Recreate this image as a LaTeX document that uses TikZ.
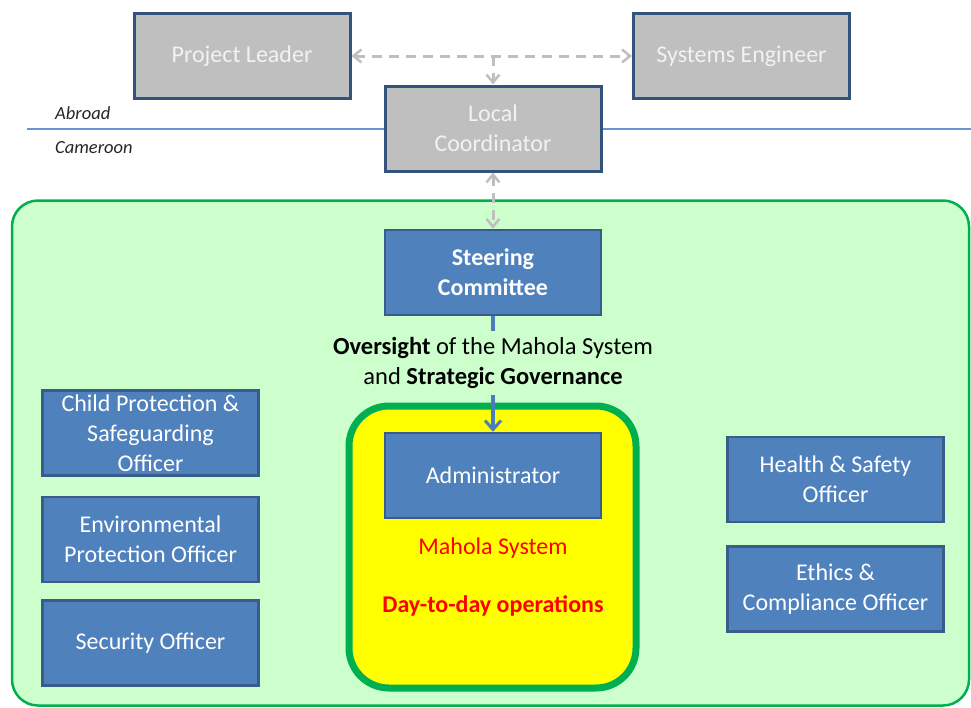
\documentclass[tikz,border=0pt]{standalone}
\usepackage{fontspec}
\setmainfont{Carlito}
\usetikzlibrary{arrows.meta}
\definecolor{boxblue}{HTML}{4F81BD}
\definecolor{boxedge}{HTML}{385D8A}
\definecolor{grayfill}{HTML}{BFBFBF}
\definecolor{graytext}{HTML}{F2F2F2}
\definecolor{greenbg}{HTML}{CCFFCC}
\definecolor{greenedge}{HTML}{00B050}
\definecolor{yellowbg}{HTML}{FFFF00}
\definecolor{redtext}{HTML}{FF0000}
\definecolor{divider}{HTML}{6A93CF}
\definecolor{arrowblue}{HTML}{4A7EBB}
\definecolor{labeltext}{HTML}{262626}
\tikzset{
  box/.style={draw=boxedge, line width=2.5pt, fill=boxblue, text=white,
    minimum width=216pt, minimum height=85pt, inner sep=2pt, align=center,
    font=\fontsize{24}{30}\selectfont},
  graybox/.style={box, fill=grayfill, text=graytext, draw=boxedge!90!black, line width=3pt},
  gdash/.style={draw=grayfill, line width=3pt, dash pattern=on 10pt off 7pt,
    arrows={Straight Barb[length=8pt,width=13pt,line width=2.5pt]-Straight Barb[length=8pt,width=13pt,line width=2.5pt]}},
  bluearrow/.style={draw=arrowblue, line width=3.5pt},
  regiontext/.style={font=\fontsize{18.5}{20}\selectfont\itshape, text=labeltext, anchor=west, inner sep=0pt},
}
\begin{document}
\begin{tikzpicture}[x=1pt,y=-1pt]
\useasboundingbox (0,0) rectangle (971,707);
% Cameroon region
\node[draw=greenedge, line width=2.5pt, fill=greenbg, rounded corners=26pt,
  minimum width=957pt, minimum height=505pt, inner sep=0pt] (cam) at (490.5,453) {};
% divider
\coordinate (dl) at (27,129);
\coordinate (dr) at (971,129);
\draw[divider, line width=1.5pt] (dl) -- (dr);
\node[regiontext] (abroad) at (55,113) {Abroad};
\node[regiontext] (cameroon) at (55,148) {Cameroon};
% top boxes
\node[graybox] (pl) at (242,56) {Project Leader};
\node[graybox] (se) at (741.5,56) {Systems Engineer};
\node[graybox] (lc) at (493,128.5) {Local\\Coordinator};
\coordinate (jn) at (pl.east -| lc.north);
\draw[gdash] (pl.east) -- (se.west);
\draw[gdash, arrows={-Straight Barb[length=8pt,width=13pt,line width=2.5pt]}] (jn) -- (lc.north);
% Mahola system
\node[draw=greenedge, line width=7pt, fill=yellowbg, rounded corners=40pt,
  minimum width=287pt, minimum height=282pt, inner sep=0pt] (mahola) at (492.5,547) {};
\node[box, font=\fontsize{24}{30}\selectfont\bfseries] (sc) at (493,272.5) {Steering\\Committee};
\node[box] (ad) at (493,475.5) {Administrator};
\node[text=redtext, font=\fontsize{24}{30}\selectfont, inner sep=0pt] (mst) at (493,548) {Mahola System};
\node[text=redtext, font=\fontsize{24}{30}\selectfont\bfseries, inner sep=0pt] (dto) at (493,606) {Day-to-day operations};
\draw[gdash] (lc.south) -- (sc.north);
% oversight
\node[align=center, text=black, font=\fontsize{24.5}{30}\selectfont, minimum height=64pt, inner sep=0pt] (ov) at (493,363)
  {\textbf{Oversight} of the Mahola System\\and \textbf{Strategic Governance}};
\draw[bluearrow] (sc.south) -- (ov.north);
\draw[bluearrow, -{Straight Barb[length=9pt,width=16pt,line width=3pt]}] (ov.south) -- (ad.north);
% officers
\node[box] (cp) at (150.5,433) {Child Protection \&\\Safeguarding\\Officer};
\node[box] (ep) at (150.5,539.5) {Environmental\\Protection Officer};
\node[box] (so) at (150.5,643) {Security Officer};
\node[box] (hs) at (835.5,479.5) {Health \& Safety\\Officer};
\node[box] (ec) at (835.5,589) {Ethics \&\\Compliance Officer};
\end{tikzpicture}
\end{document}
